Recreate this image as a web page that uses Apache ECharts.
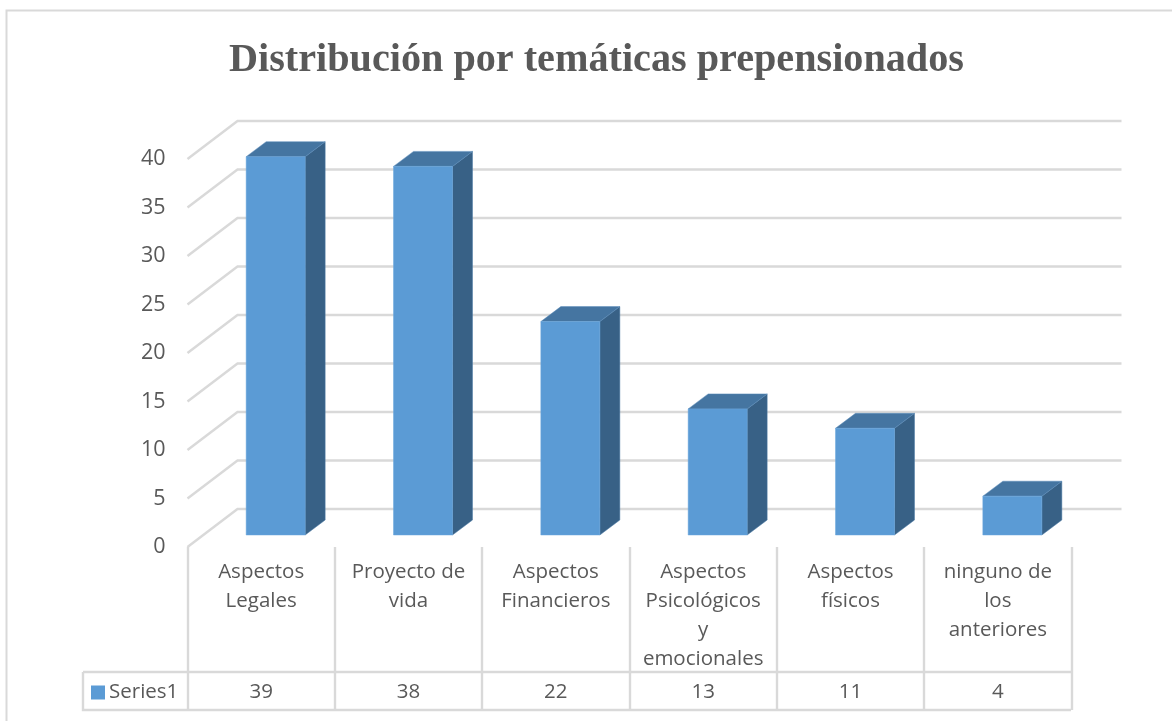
<!DOCTYPE html>
<html>
<head>
<meta charset="utf-8">
<style>html,body{margin:0;padding:0;background:#fff}#c{width:1172px;height:721px}</style>
<script src="https://cdn.jsdelivr.net/npm/echarts@6/dist/echarts.min.js"></script>
</head>
<body>
<div id="c"></div>
<script>
const categories = ['Aspectos\nLegales', 'Proyecto de\nvida', 'Aspectos\nFinancieros', 'Aspectos\nPsicológicos\ny\nemocionales', 'Aspectos\nfísicos', 'ninguno de\nlos\nanteriores'];
const seriesValues = [39, 38, 22, 13, 11, 4];
const yTicks = [0, 5, 10, 15, 20, 25, 30, 35, 40];
const seriesName = 'Series1';
const titleText = 'Distribución por temáticas prepensionados';

const GREY = '#d9d9d9', TEXT = '#595959';
const FRONT = '#5b9bd5', TOP = '#4575a1', SIDE = '#386186';
const WALL_DX = 50, WALL_DY = -38;
const BAR_DX = 14.5, BAR_DY = -12, DEPTH_DX = 20, DEPTH_DY = -15;
const BAR_W = 59;
const LINE_W = 2.4;

function wallItem(params, api) {
  const v = api.value(1);
  const band = api.size([1, 0])[0];
  const p = api.coord([0, v]);
  const x0 = p[0] - band / 2, y0 = p[1];
  const x1 = x0 + WALL_DX, y1 = y0 + WALL_DY;
  return {
    type: 'polyline',
    shape: { points: [[x0, y0], [x1, y1], [x1 + band * categories.length, y1]] },
    style: { fill: null, stroke: GREY, lineWidth: LINE_W },
    silent: true
  };
}

function barItem(params, api) {
  const i = api.value(0), v = api.value(1);
  const t = api.coord([i, v]), b = api.coord([i, 0]);
  const l = t[0] - BAR_W / 2 + BAR_DX, r = l + BAR_W;
  const ty = t[1] + BAR_DY, by = b[1] + BAR_DY;
  const dx = DEPTH_DX, dy = DEPTH_DY;
  return {
    type: 'group',
    children: [
      { type: 'polygon', shape: { points: [[r, ty], [r + dx, ty + dy], [r + dx, by + dy], [r, by]] },
        style: { fill: SIDE, stroke: '#4a7aa6', lineWidth: 0.5 } },
      { type: 'polygon', shape: { points: [[l, ty], [l + dx, ty + dy], [r + dx, ty + dy], [r, ty]] },
        style: { fill: TOP, stroke: '#5a8cba', lineWidth: 0.5 } },
      { type: 'rect', shape: { x: l, y: ty, width: BAR_W, height: by - ty },
        style: { fill: FRONT, stroke: '#6ba6dc', lineWidth: 0.5 } }
    ]
  };
}

function tableItem(params, api) {
  const i = api.value(0);
  const p = api.coord([i, 0]);
  return {
    type: 'text',
    style: { text: String(api.value(1)), x: p[0], y: p[1] + 145, align: 'center', verticalAlign: 'middle',
      fill: TEXT, font: '20.5px "Open Sans"' },
    silent: true
  };
}

const chart = echarts.init(document.getElementById('c'), null, { renderer: 'canvas' });
chart.setOption({
  animation: false,
  backgroundColor: '#fff',
  title: {
    text: titleText, left: 229, top: 41, padding: 0,
    textStyle: { color: TEXT, fontFamily: '"Liberation Serif"', fontWeight: 'bold', fontSize: 40.2 }
  },
  legend: {
    data: [{ name: seriesName, icon: 'rect' }], left: 91, top: 682, padding: 0,
    itemWidth: 14, itemHeight: 14, itemGap: 4, selectedMode: false,
    textStyle: { color: TEXT, fontFamily: '"Open Sans"', fontSize: 20.5, padding: [0, 0, 0, -1] }
  },
  grid: { left: 187.5, top: 159, width: 884, height: 388 },
  xAxis: {
    type: 'category', data: categories, boundaryGap: true,
    axisLine: { show: false },
    axisTick: { show: true, inside: false, length: 163, lineStyle: { color: GREY, width: LINE_W } },
    axisLabel: { color: TEXT, fontFamily: '"Open Sans"', fontSize: 20.5, lineHeight: 29, margin: 10.5, interval: 0, verticalAlign: 'top' }
  },
  yAxis: {
    type: 'value', min: 0, max: 40, interval: 5,
    axisLine: { show: false }, axisTick: { show: false }, splitLine: { show: false },
    axisLabel: { color: TEXT, fontFamily: '"Open Sans"', fontSize: 21.5, margin: 22 }
  },
  graphic: [
    { type: 'polyline', shape: { points: [[6.5, 730], [6.5, 10.5], [1172, 10.5]] }, style: { fill: null, stroke: GREY, lineWidth: 2 }, silent: true },
    { type: 'polyline', shape: { points: [[83, 672], [1071, 672]] }, style: { fill: null, stroke: GREY, lineWidth: LINE_W }, silent: true },
    { type: 'polyline', shape: { points: [[83, 672], [83, 710], [1071, 710]] }, style: { fill: null, stroke: GREY, lineWidth: LINE_W }, silent: true }
  ],
  series: [
    { type: 'custom', name: 'walls', coordinateSystem: 'cartesian2d', z: 1, silent: true,
      renderItem: wallItem, data: yTicks.map(v => [0, v]), encode: { x: 0, y: 1 } },
    { type: 'custom', name: seriesName, coordinateSystem: 'cartesian2d', z: 2, silent: true,
      itemStyle: { color: FRONT }, renderItem: barItem,
      data: seriesValues.map((v, i) => [i, v]), encode: { x: 0, y: 1 } },
    { type: 'custom', name: 'table', coordinateSystem: 'cartesian2d', z: 3, silent: true,
      renderItem: tableItem, data: seriesValues.map((v, i) => [i, v]), encode: { x: 0, y: 1 } }
  ]
});
</script>
</body>
</html>
